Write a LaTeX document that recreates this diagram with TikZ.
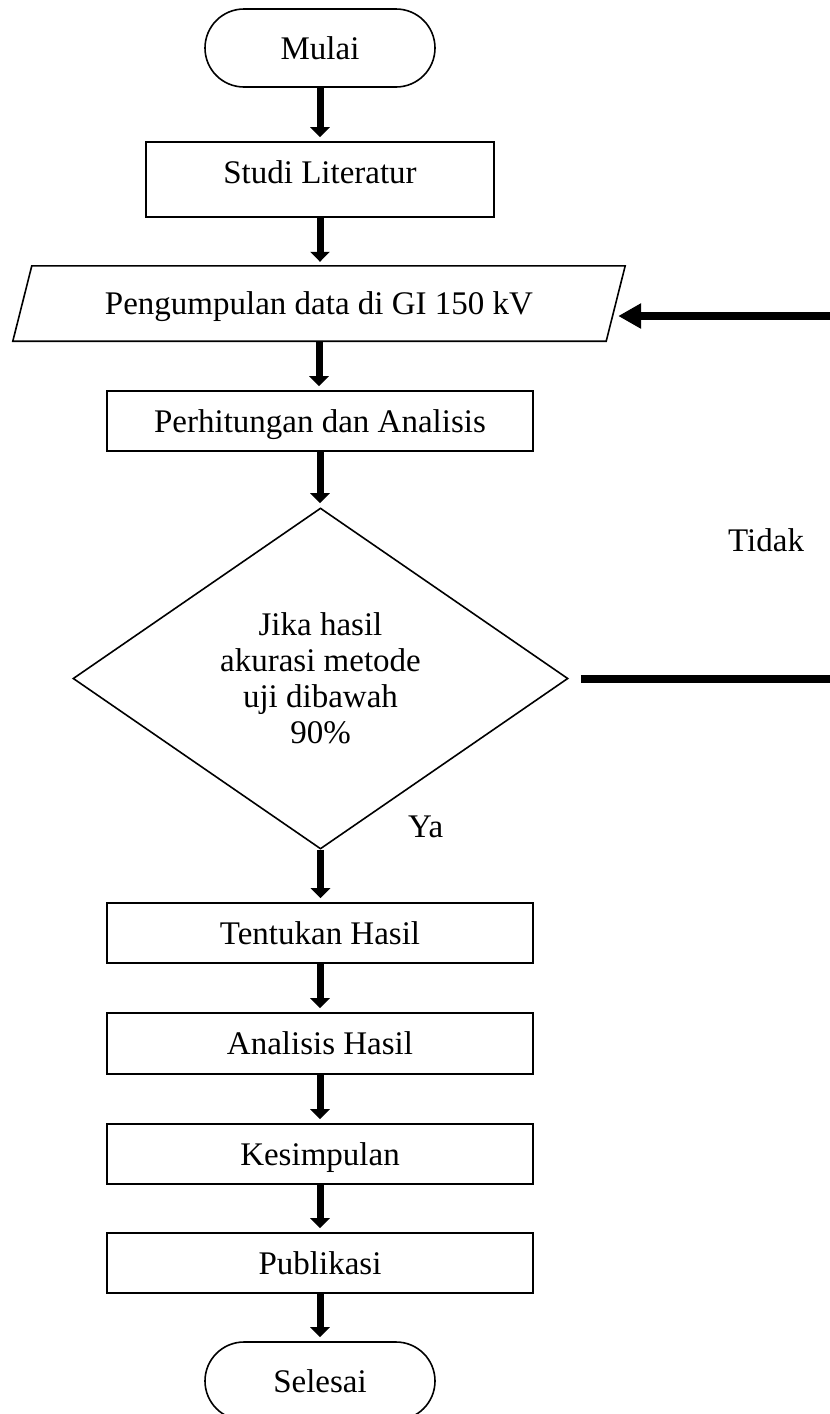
\documentclass[tikz,border=0pt]{standalone}
\usepackage{fontspec}
\setmainfont{Liberation Serif}
\usetikzlibrary{arrows.meta,shapes.geometric,calc}
\begin{document}
\begin{tikzpicture}[x=1pt,y=-1pt,
  every node/.style={font=\fontsize{33}{36}\selectfont, inner sep=0pt},
  box/.style={draw, line width=1.6pt, minimum width=426pt, minimum height=60pt, text height=22pt, text depth=0pt},
  term/.style={draw, line width=1.6pt, rounded corners=39pt, minimum width=230pt, minimum height=78pt, text height=22pt, text depth=0pt},
  flow/.style={line width=7pt, -{Triangle[length=10pt,width=19pt]}, shorten >=4pt},
  back/.style={line width=8pt, -{Triangle[length=23pt,width=24pt]}},
  lbl/.style={anchor=base west}
]
\useasboundingbox (0,0) rectangle (830,1414);
\clip (0,0) rectangle (830,1414);

\node[term] (mulai) at (320,48) {Mulai};
\node[box, minimum width=348pt, minimum height=75pt, text depth=14pt] (studi) at (320,179.5) {Studi Literatur};
\node[minimum width=593pt, minimum height=75pt, text height=22pt, text depth=0pt] (peng) at (319,303.5) {Pengumpulan data di GI 150 kV};
\draw[line width=1.6pt] ($(peng.north west)+(9.5,0)$) -- ($(peng.north east)+(9.5,0)$) -- ($(peng.south east)+(-9.5,0)$) -- ($(peng.south west)+(-9.5,0)$) -- cycle;
\node[box] (hitung) at (320,421) {Perhitungan dan Analisis};
\node[diamond, draw, line width=1.6pt, minimum width=495pt, minimum height=341pt, align=center] (dec) at (320.5,678.5) {Jika hasil\\akurasi metode\\uji dibawah\\90\%};
\node[box] (tentu) at (320,933) {Tentukan Hasil};
\node[box, minimum height=61pt] (anal) at (320,1043.5) {Analisis Hasil};
\node[box] (kes) at (320,1154) {Kesimpulan};
\node[box] (pub) at (320,1263) {Publikasi};
\node[term] (sel) at (320,1381) {Selesai};

\foreach \a/\b in {mulai/studi, studi/peng, peng/hitung, hitung/dec, dec/tentu, tentu/anal, anal/kes, kes/pub, pub/sel}
  \draw[flow] (\a.south) -- (\a.south |- \b.north);

\coordinate (fbR) at (880,316);
\draw[back, shorten <=12pt, shorten >=2.5pt] (dec.east) -| (fbR) -- (fbR -| peng.east);

\node[lbl] (tidak) at (728,551) {Tidak};
\node[lbl] (ya) at (408,837) {Ya};
\end{tikzpicture}
\end{document}
